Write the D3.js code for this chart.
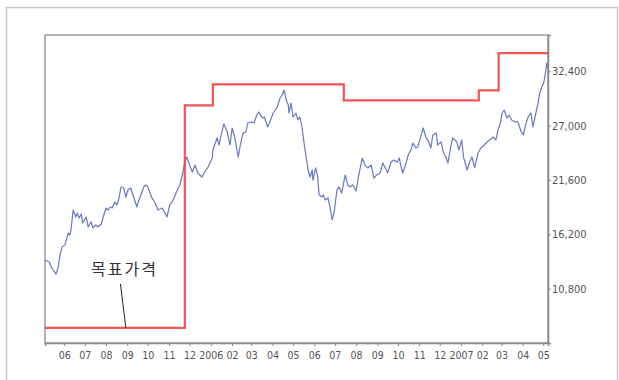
<!DOCTYPE html>
<html>
<head>
<meta charset="utf-8">
<script src="https://cdn.jsdelivr.net/npm/d3@7"></script>
<style>
  html, body { margin: 0; padding: 0; background: #fff; }
  svg { display: block; }
  .tick-label { font-family: "Liberation Sans Narrow", "DejaVu Sans Condensed", "Liberation Sans", sans-serif; fill: #555; }
</style>
</head>
<body>
<svg id="chart" width="619" height="380"></svg>
<script>
// Daily closing price (KRW), May 2005 – May 2007
const priceDates = [
  "2005-05-04","2005-05-10","2005-05-14","2005-05-20","2005-05-23","2005-05-26","2005-05-29",
  "2005-06-02","2005-06-05","2005-06-07","2005-06-09","2005-06-11","2005-06-14","2005-06-18","2005-06-20","2005-06-23","2005-06-26","2005-06-28",
  "2005-07-03","2005-07-06","2005-07-10","2005-07-13","2005-07-17","2005-07-20","2005-07-25","2005-07-28",
  "2005-08-01","2005-08-04","2005-08-07","2005-08-10","2005-08-14","2005-08-17","2005-08-20","2005-08-23","2005-08-27","2005-08-30",
  "2005-09-02","2005-09-06","2005-09-11","2005-09-15","2005-09-18","2005-09-21","2005-09-25","2005-09-28",
  "2005-10-01","2005-10-07","2005-10-11","2005-10-16","2005-10-22","2005-10-26","2005-10-29",
  "2005-11-02","2005-11-07","2005-11-13","2005-11-17","2005-11-21","2005-11-24","2005-11-27",
  "2005-12-02","2005-12-05","2005-12-09","2005-12-13","2005-12-19","2005-12-23","2005-12-28",
  "2006-01-03","2006-01-04","2006-01-10","2006-01-13","2006-01-16","2006-01-20","2006-01-25","2006-01-29",
  "2006-02-01","2006-02-05","2006-02-10","2006-02-13","2006-02-17","2006-02-21","2006-02-24",
  "2006-03-02","2006-03-05","2006-03-09","2006-03-12","2006-03-17","2006-03-20","2006-03-25","2006-03-28",
  "2006-04-02","2006-04-08","2006-04-12","2006-04-15","2006-04-18","2006-04-21","2006-04-24","2006-04-25","2006-04-28",
  "2006-05-01","2006-05-05","2006-05-08","2006-05-11","2006-05-14","2006-05-17","2006-05-20","2006-05-23","2006-05-26","2006-05-29","2006-05-30",
  "2006-06-03","2006-06-06","2006-06-08","2006-06-12","2006-06-14","2006-06-17","2006-06-21","2006-06-24","2006-06-27","2006-06-30",
  "2006-07-04","2006-07-07","2006-07-11","2006-07-16","2006-07-20","2006-07-23","2006-07-27",
  "2006-08-01","2006-08-04","2006-08-10","2006-08-14","2006-08-18","2006-08-23","2006-08-27","2006-08-31",
  "2006-09-05","2006-09-09","2006-09-14","2006-09-16","2006-09-21","2006-09-25","2006-09-30",
  "2006-10-03","2006-10-05","2006-10-08","2006-10-13","2006-10-16","2006-10-20","2006-10-23","2006-10-27","2006-10-30",
  "2006-11-04","2006-11-07","2006-11-11","2006-11-14","2006-11-18","2006-11-21","2006-11-26","2006-11-28",
  "2006-12-03","2006-12-06","2006-12-10","2006-12-13","2006-12-17","2006-12-20","2006-12-26","2006-12-29",
  "2007-01-02","2007-01-05","2007-01-10","2007-01-13","2007-01-17","2007-01-21","2007-01-26","2007-01-30",
  "2007-02-04","2007-02-08","2007-02-12","2007-02-17","2007-02-21","2007-02-24","2007-02-28",
  "2007-03-02","2007-03-05","2007-03-09","2007-03-12","2007-03-16","2007-03-21","2007-03-25","2007-03-30",
  "2007-04-02","2007-04-06","2007-04-09","2007-04-13","2007-04-16","2007-04-19","2007-04-23","2007-04-26","2007-04-29",
  "2007-05-02","2007-05-05","2007-05-06","2007-05-08"
];
const priceValues = [
  13650,13450,12850,12250,12850,14150,14950,
  15150,15850,16330,16130,16630,18610,17920,18320,17820,18220,17320,
  17920,16930,17420,16830,17120,16930,17220,17920,
  18810,18610,18910,18810,19410,19110,19810,20900,20800,19900,
  20600,20800,19810,18910,19610,20100,20900,21100,
  20900,19810,19410,18610,18810,18320,17920,
  19110,19610,20600,21100,22290,23380,23880,
  22890,22390,23080,22290,21890,22390,22890,
  23780,24570,25770,25070,26070,27160,26360,25070,
  26760,25770,23880,25070,26260,26360,27260,
  27360,27260,28050,28350,27750,27850,26860,27360,
  28250,28850,29740,30040,30540,29540,29050,28250,29240,
  27850,28250,27560,27850,26860,25270,23880,22590,21890,22590,21590,
  22790,21890,20100,19910,20100,19610,19810,18910,17620,18420,
  20600,20900,20300,22090,21100,20900,21100,
  20500,21790,23780,23080,22790,23080,21790,22090,
  22290,23280,22590,22290,23380,23580,23380,
  23780,23080,22290,23280,24080,24570,25270,24770,24870,
  26070,26760,25770,25570,24770,26070,26260,25070,
  25370,24380,23880,23280,24870,25770,25370,24570,
  25570,23780,22590,23280,23880,22790,24280,24770,
  25070,25370,25570,25870,25570,26560,27360,
  28250,28550,27750,28050,27560,27360,27360,26360,
  26070,27260,27850,28250,26860,27850,29050,30240,30840,
  31330,32520,33220,32720
];

// Analyst target price, in effect from each date onward
const targetDates  = ["2005-05-04","2005-11-24","2006-01-04","2006-07-14","2007-01-27","2007-02-25","2007-05-08"];
const targetValues = [6900, 29000, 31100, 29500, 30500, 34200, 34200];

// Right-hand price axis ticks
const yTickValues = [10800, 16200, 21600, 27000, 32400];

// Chart window
const startDate = "2005-05-04";
const endDate   = "2007-05-08";
const yMin = 5400, yMax = 36000;

const targetLabel = "목표가격";
const targetLabelDate = "2005-08-30";   // where the label's leader touches the target line
const targetLabelTextDate = "2005-08-25";

const parse = d3.timeParse("%Y-%m-%d");
const prices  = priceDates.map((d, i) => ({ date: parse(d), value: priceValues[i] }));
const targets = targetDates.map((d, i) => ({ date: parse(d), value: targetValues[i] }));

const svg = d3.select("#chart");
const margin = { left: 45, right: 71, top: 35, bottom: 37 };
const W = 619, H = 380;

const x = d3.scaleTime()
  .domain([parse(startDate), parse(endDate)])
  .range([margin.left, W - margin.right]);
const y = d3.scaleLinear()
  .domain([yMin, yMax])
  .range([H - margin.bottom, margin.top]);

// Outer panel border
svg.append("rect")
  .attr("x", 6.5).attr("y", 7.5)
  .attr("width", 611).attr("height", 420)
  .attr("fill", "none").attr("stroke", "#c8c8c8").attr("stroke-width", 1.5);

// Plot frame
svg.append("rect")
  .attr("x", margin.left).attr("y", margin.top)
  .attr("width", W - margin.left - margin.right)
  .attr("height", H - margin.top - margin.bottom)
  .attr("fill", "#fff").attr("stroke", "#9a9a9a").attr("stroke-width", 1.5);

// Price line
const priceLine = d3.line()
  .x(d => x(d.date)).y(d => y(d.value))
  .curve(d3.curveLinear);
svg.append("path")
  .datum(prices)
  .attr("d", priceLine)
  .attr("fill", "none")
  .attr("stroke", "#5a68bc")
  .attr("stroke-width", 1.2)
  .attr("stroke-opacity", 0.9)
  .attr("stroke-linejoin", "round");

// Target price step line
const targetLine = d3.line()
  .x(d => x(d.date)).y(d => y(d.value))
  .curve(d3.curveStepAfter);
svg.append("path")
  .datum(targets)
  .attr("d", targetLine)
  .attr("fill", "none")
  .attr("stroke", "#f23c3c")
  .attr("stroke-width", 2.2)
  .attr("stroke-opacity", 0.88);

// X axis: monthly ticks, year shown at January
const xAxis = d3.axisBottom(x)
  .ticks(d3.timeMonth.every(1))
  .tickSize(3)
  .tickPadding(6)
  .tickFormat(d => d.getMonth() === 0 ? d3.timeFormat("%Y")(d) : d3.timeFormat("%m")(d));
const gx = svg.append("g")
  .attr("transform", `translate(0,${H - margin.bottom})`)
  .call(xAxis);
gx.select(".domain").attr("stroke", "#888").attr("stroke-width", 1.5);
gx.selectAll(".tick line").attr("stroke", "#888");
gx.selectAll(".tick text")
  .attr("class", "tick-label")
  .attr("font-size", 10.5)
  .attr("fill", "#555");

// Y axis on the right
const yAxis = d3.axisRight(y)
  .tickValues(yTickValues)
  .tickSize(3)
  .tickPadding(1)
  .tickFormat(d3.format(","));
const gy = svg.append("g")
  .attr("transform", `translate(${W - margin.right},0)`)
  .call(yAxis);
gy.select(".domain").attr("stroke", "#888").attr("stroke-width", 1.5);
gy.selectAll(".tick line").attr("stroke", "#888");
gy.selectAll(".tick text")
  .attr("class", "tick-label")
  .attr("font-size", 11)
  .attr("fill", "#555");

// Target price label with leader line
const anchorVal = targets[0].value;
const ax = x(parse(targetLabelDate)), ay = y(anchorVal);
const tx = x(parse(targetLabelTextDate));
svg.append("line")
  .attr("x1", tx - 2).attr("y1", ay - 44)
  .attr("x2", ax).attr("y2", ay)
  .attr("stroke", "#222").attr("stroke-width", 1);
svg.append("text")
  .attr("x", tx + 2).attr("y", ay - 53)
  .attr("text-anchor", "middle")
  .attr("font-family", "'Noto Sans CJK KR', sans-serif")
  .attr("font-size", 16)
  .attr("letter-spacing", 2)
  .attr("fill", "#333")
  .text(targetLabel);
</script>
</body>
</html>
